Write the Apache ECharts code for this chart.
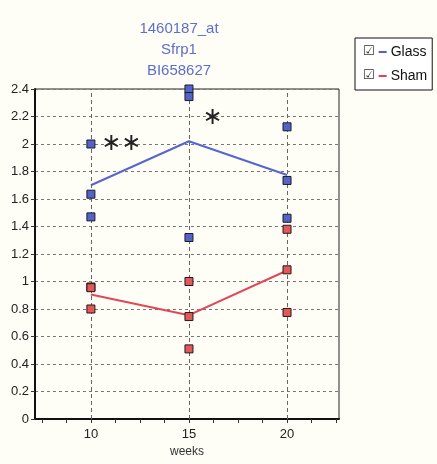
<!DOCTYPE html>
<html><head><meta charset="utf-8">
<script src="https://cdn.jsdelivr.net/npm/echarts@6/dist/echarts.min.js"></script>
<style>html,body{margin:0;padding:0;background:#fefef7;}#c{width:437px;height:464px;}</style>
</head><body><div id="c"></div>
<script>
var weeks = [10, 15, 20];
var glassPoints = [[2.0, 1.635, 1.47], [2.4, 2.345, 1.32], [2.125, 1.735, 1.46]];
var shamPoints = [[0.96, 0.955, 0.80], [1.0, 0.745, 0.51], [1.38, 1.085, 0.775]];
var glassMean = [1.70, 2.02, 1.775];
var shamMean = [0.905, 0.755, 1.08];
var xMinorTicks = [7.5, 8.75, 10, 11.25, 12.5, 13.75, 15, 16.25, 17.5, 18.75, 20, 21.25, 22.5];
var starLabels = ['∗∗', '∗'];
var starAt = [[11.55, 2.0], [16.2, 2.19]];
var titleLines = ['1460187_at', 'Sfrp1', 'BI658627'];

var font = "'Liberation Sans Narrow','Liberation Sans',Arial,sans-serif";
function pts(arr) {
  var out = [];
  weeks.forEach(function (w, i) { arr[i].forEach(function (v) { out.push([w, v]); }); });
  return out;
}
var chart = echarts.init(document.getElementById('c'));
chart.setOption({
  backgroundColor: '#fefef7',
  animation: false,
  title: {
    text: titleLines.join('\n'), left: 174, top: 13, textAlign: 'center',
    textStyle: { fontFamily: font, fontSize: 15, fontWeight: 'normal', color: '#5f6ecc', lineHeight: 21 }
  },
  legend: {
    orient: 'vertical', left: 355, top: 38, padding: [5, 5, 5, 3], itemGap: 6,
    borderColor: '#111', borderWidth: 1, backgroundColor: '#ffffff',
    itemWidth: 0, itemHeight: 0, icon: 'rect',
    data: ['Glass', 'Sham'],
    formatter: function (n) { return '{b|☑}{sp| }' + (n === 'Glass' ? '{g| }' : '{s| }') + '{sp| }{t|' + n + '}'; },
    textStyle: {
      fontFamily: font, fontSize: 14, color: '#111', lineHeight: 18,
      rich: {
        b: { fontFamily: 'DejaVu Sans', fontSize: 13, color: '#333', lineHeight: 18 },
        sp: { fontSize: 6, width: 4, lineHeight: 18 },
        g: { backgroundColor: '#4f5fd8', width: 8, height: 2, fontSize: 2, lineHeight: 2, verticalAlign: 'middle' },
        s: { backgroundColor: '#e6404f', width: 8, height: 2, fontSize: 2, lineHeight: 2, verticalAlign: 'middle' },
        t: { fontFamily: font, fontSize: 14, color: '#111', lineHeight: 18 }
      }
    }
  },
  grid: { left: 35, right: 98, top: 89, bottom: 45, show: true, borderColor: '#222', borderWidth: 1, backgroundColor: 'transparent' },
  xAxis: {
    type: 'value', min: 7.15, max: 22.65, name: 'weeks', nameLocation: 'middle', nameGap: 25,
    nameTextStyle: { fontFamily: font, fontSize: 12, color: '#333' },
    axisLine: { lineStyle: { color: '#111', width: 2 } },
    axisTick: { show: true, customValues: xMinorTicks, length: 4, lineStyle: { color: '#333' } },
    axisLabel: { customValues: weeks, fontFamily: font, fontSize: 13, color: '#222', margin: 9 },
    splitLine: { show: false }
  },
  yAxis: {
    type: 'value', min: 0, max: 2.4, interval: 0.2,
    axisLine: { show: true, lineStyle: { color: '#111', width: 2 } },
    axisTick: { show: true, length: 4, lineStyle: { color: '#333' } },
    axisLabel: { fontFamily: font, fontSize: 13, color: '#222', margin: 6,
      formatter: function (v) { return String(Math.round(v * 10) / 10); } },
    splitLine: { show: true, lineStyle: { type: [3, 3], color: '#777', width: 1 } }
  },
  series: [
    {
      name: 'Glass', type: 'line', data: weeks.map(function (w, i) { return [w, glassMean[i]]; }),
      showSymbol: false, symbol: 'none', lineStyle: { color: '#5566d0', width: 2 }, itemStyle: { color: '#5566d0' }, z: 3,
      markLine: {
        silent: true, symbol: 'none', label: { show: false },
        lineStyle: { type: [4, 3], color: '#666', width: 1 },
        data: weeks.map(function (w) { return { xAxis: w }; })
      }
    },
    {
      name: 'Sham', type: 'line', data: weeks.map(function (w, i) { return [w, shamMean[i]]; }),
      showSymbol: false, symbol: 'none', lineStyle: { color: '#e0485a', width: 2 }, itemStyle: { color: '#e0485a' }, z: 3
    },
    {
      name: 'GlassPts', type: 'scatter', data: pts(glassPoints), symbol: 'rect', symbolSize: 8, z: 5,
      itemStyle: { color: '#5563c4', borderColor: '#1a1a30', borderWidth: 1, opacity: 1 },
      markPoint: {
        silent: true, symbol: 'rect', symbolSize: 1, itemStyle: { color: 'transparent' },
        label: { show: true, position: 'inside', fontFamily: 'DejaVu Sans', fontSize: 24, color: '#222',
          formatter: function (p) { return p.name; } },
        data: starLabels.map(function (s, i) { return { name: s, coord: starAt[i] }; })
      }
    },
    {
      name: 'ShamPts', type: 'scatter', data: pts(shamPoints), symbol: 'rect', symbolSize: 8, z: 5,
      itemStyle: { color: '#e05a5c', borderColor: '#2a1515', borderWidth: 1, opacity: 1 }
    }
  ]
});
</script></body></html>
